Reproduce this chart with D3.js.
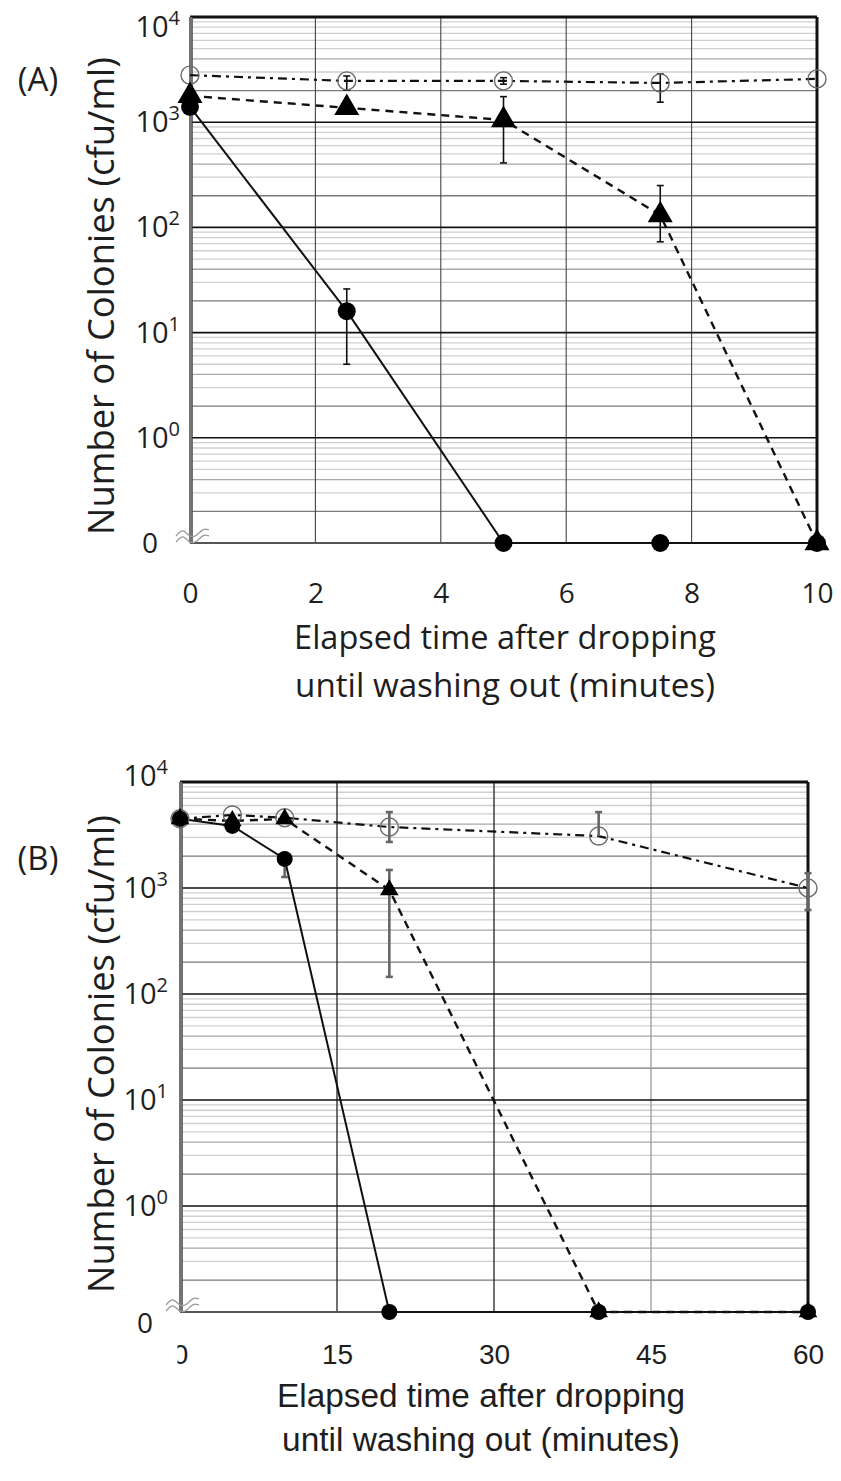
<!DOCTYPE html>
<html lang="en">
<head>
<meta charset="UTF-8">
<title>Number of colonies vs elapsed time</title>
<script src="https://cdn.jsdelivr.net/npm/d3@7"></script>
<style>
  body { margin: 0; background: #fff; }
  svg text { fill: #1e1e1e; }
</style>
</head>
<body>
<svg id="chart" width="841" height="1481"></svg>
<script>
// ---- panel A (0-10 min) ----
const timesA = [0, 2.5, 5, 7.5, 10];
const xTicksA = [0, 2, 4, 6, 8, 10];
const filledA = [1400, 16, 0, 0, 0];
const filledALo = [null, 5, null, null, null];
const filledAHi = [null, 26, null, null, null];
const triA = [1780, 1370, 1050, 131, 0];
const triALo = [null, null, 410, 73, null];
const triAHi = [null, null, 1750, 250, null];
const openA = [2800, 2470, 2470, 2360, 2580];
const openALo = [null, 2020, 2300, 1550, null];
const openAHi = [null, 2750, 2650, 2870, null];

// ---- panel B (0-60 min) ----
const timesB = [0, 5, 10, 20, 40, 60];
const xTicksB = [0, 15, 30, 45, 60];
const filledB = [4500, 3850, 1880, 0, 0, 0];
const filledBLo = [null, null, 1270, null, null, null];
const filledBHi = [null, null, null, null, null, null];
const triB = [4500, 4300, 4480, 960, 0, 0];
const triBLo = [null, null, null, 145, null, null];
const triBHi = [null, null, null, 1480, null, null];
const openB = [4500, 4890, 4600, 3760, 3090, 1000];
const openBLo = [null, null, null, 2720, null, 620];
const openBHi = [null, null, null, 5200, 5200, 1380];

// y axis: decades 10^0..10^4, bottom of axis is the "0" break
const yExps = [4, 3, 2, 1, 0];
const yZero = 0.1;

const svg = d3.select('#chart');
const defs = svg.append('defs');

function fitText(sel, width) {
  const w = sel.node().getComputedTextLength();
  const fs = parseFloat(sel.attr('font-size'));
  sel.attr('font-size', fs * width / w);
}

function drawPanel(o) {
  const g = svg.append('g');
  const x = d3.scaleLinear().domain(o.xDomain).range([o.left, o.right]);
  const y = d3.scaleLog().domain([yZero, 1e4]).range([o.bottom, o.top]);
  const yv = v => y(v === 0 ? yZero : v);

  // minor gridlines
  const minors = [];
  for (let e = -1; e < 4; e++) for (let m = 2; m <= 9; m++) minors.push({ v: m * Math.pow(10, e), m });
  g.selectAll('.minor').data(minors).enter().append('line')
    .attr('x1', o.left).attr('x2', o.right)
    .attr('y1', d => y(d.v)).attr('y2', d => y(d.v))
    .attr('stroke', d => d.m === 2 ? '#7a7a7a' : (d.m === 4 ? '#a8a8a8' : '#cfcfcf'))
    .attr('stroke-width', 1.3);

  // vertical gridlines
  g.selectAll('.vgrid').data(o.xTicks.slice(1, -1)).enter().append('line')
    .attr('x1', d => x(d)).attr('x2', d => x(d))
    .attr('y1', o.top).attr('y2', o.bottom)
    .attr('stroke', (d, i) => o.vColors[i]).attr('stroke-width', o.vWidth);

  // major gridlines
  g.selectAll('.major').data([1, 10, 100, 1000]).enter().append('line')
    .attr('x1', o.left).attr('x2', o.right)
    .attr('y1', d => y(d)).attr('y2', d => y(d))
    .attr('stroke', '#111').attr('stroke-width', 1.6);

  // frame
  g.append('line').attr('x1', o.left).attr('x2', o.right).attr('y1', o.top).attr('y2', o.top)
    .attr('stroke', '#111').attr('stroke-width', 3);
  g.append('line').attr('x1', o.right).attr('x2', o.right).attr('y1', o.top).attr('y2', o.bottom)
    .attr('stroke', '#111').attr('stroke-width', 3);
  g.append('line').attr('x1', o.left).attr('x2', o.right).attr('y1', o.bottom).attr('y2', o.bottom)
    .attr('stroke', '#555').attr('stroke-width', 2.2);
  g.append('line').attr('x1', o.left + 1).attr('x2', o.left + 1).attr('y1', o.top).attr('y2', o.bottom)
    .attr('stroke', '#444').attr('stroke-width', 3.5);
  g.append('line').attr('x1', o.left + 1).attr('x2', o.left + 1).attr('y1', o.top).attr('y2', o.bottom)
    .attr('stroke', '#bbb').attr('stroke-width', 0.8);

  // axis break (two small waves at the bottom-left corner)
  const wave = d3.line().curve(d3.curveBasis);
  [0, 6].forEach(off => {
    const bx = o.left - 14, by = o.bottom - 10 + off;
    g.append('path')
      .attr('d', wave([[bx, by + 3], [bx + 7, by - 5], [bx + 13, by + 4], [bx + 20, by + 4], [bx + 27, by - 5], [bx + 33, by - 3]]))
      .attr('fill', 'none').attr('stroke', '#9a9a9a').attr('stroke-width', 1.3);
  });

  // series lines
  const line = d3.line().x(d => x(d[0])).y(d => yv(d[1]));
  o.series.forEach(s => {
    g.append('path')
      .attr('d', line(o.times.map((t, i) => [t, s.values[i]])))
      .attr('fill', 'none').attr('stroke', '#111')
      .attr('stroke-width', s.width).attr('stroke-dasharray', s.dash);
  });

  // error bars
  o.series.forEach(s => {
    const bars = o.times.map((t, i) => ({ t, v: s.values[i], lo: s.lo[i], hi: s.hi[i] }))
      .filter(d => d.lo !== null || d.hi !== null);
    const eb = g.append('g').attr('stroke', o.errColor).attr('stroke-width', o.errWidth);
    bars.forEach(d => {
      const y1 = yv(d.hi !== null ? d.hi : d.v), y2 = yv(d.lo !== null ? d.lo : d.v);
      eb.append('line').attr('x1', x(d.t)).attr('x2', x(d.t)).attr('y1', y1).attr('y2', y2);
      if (d.hi !== null) eb.append('line').attr('x1', x(d.t) - 3.5).attr('x2', x(d.t) + 3.5).attr('y1', y1).attr('y2', y1);
      if (d.lo !== null) eb.append('line').attr('x1', x(d.t) - 3.5).attr('x2', x(d.t) + 3.5).attr('y1', y2).attr('y2', y2);
    });
  });

  // markers
  o.series.forEach(s => {
    const pts = o.times.map((t, i) => ({ t, v: s.values[i] }));
    if (s.kind === 'tri') {
      g.selectAll(null).data(pts).enter().append('path')
        .attr('d', d3.symbol(d3.symbolTriangle, o.triSize)())
        .attr('transform', d => `translate(${x(d.t)},${yv(d.v)})`)
        .attr('fill', '#000');
    } else {
      g.selectAll(null).data(pts).enter().append('circle')
        .attr('cx', d => x(d.t)).attr('cy', d => yv(d.v))
        .attr('r', s.kind === 'open' ? o.openR : o.dotR)
        .attr('fill', s.kind === 'open' ? 'none' : '#000')
        .attr('stroke', s.kind === 'open' ? '#6a6a6a' : 'none')
        .attr('stroke-width', 1.4);
    }
  });

  // y tick labels
  yExps.forEach((e, i) => {
    const t = g.append('text')
      .attr('x', o.left - o.yLabGap)
      .attr('y', y(Math.pow(10, e)) + 10 + (i === 0 ? o.topShift : 0))
      .attr('text-anchor', 'end')
      .attr('font-family', o.tickFont).attr('font-size', 29);
    t.append('tspan').text('10');
    t.append('tspan').attr('dy', -12).attr('font-size', 20).text(e);
  });
  g.append('text')
    .attr('x', o.zeroX).attr('y', o.bottom + 10 + o.zeroShift)
    .attr('text-anchor', 'middle')
    .attr('font-family', o.tickFont).attr('font-size', 28).text('0');

  // x axis tick labels
  const xa = g.append('g')
    .attr('transform', `translate(0,${o.bottom + o.xLabOffset})`)
    .call(d3.axisBottom(x).tickValues(o.xTicks).tickSize(0).tickPadding(0));
  xa.select('.domain').remove();
  xa.selectAll('text')
    .attr('font-family', o.xFont).attr('font-size', o.xTickSize).attr('fill', '#1e1e1e')
    .attr('dy', 0);
  if (o.clipFirst) {
    // the first tick label is partly hidden behind the axis in the original
    defs.append('clipPath').attr('id', 'clipFirst')
      .append('rect').attr('x', -3).attr('y', -60).attr('width', 60).attr('height', 120);
    xa.selectAll('.tick').filter(d => d === o.xTicks[0]).select('text').attr('clip-path', 'url(#clipFirst)');
  }

  // axis titles
  o.xTitle.forEach((s, i) => {
    const t = g.append('text')
      .attr('x', o.xTitleX).attr('y', o.xTitleY[i])
      .attr('text-anchor', 'middle')
      .attr('font-family', o.xFont).attr('font-size', 30).text(s);
    fitText(t, o.xTitleW[i]);
  });
  const yt = g.append('text')
    .attr('transform', `translate(${o.yTitleX},${o.yTitleY}) rotate(-90)`)
    .attr('text-anchor', 'middle').attr('dominant-baseline', 'central')
    .attr('font-family', 'Open Sans').attr('font-size', 32)
    .text('Number of Colonies (cfu/ml)');
  fitText(yt, 478);

  g.append('text')
    .attr('x', 38).attr('y', o.tagY + 11)
    .attr('text-anchor', 'middle')
    .attr('font-family', 'Open Sans').attr('font-size', 33).text(o.tag);
}

drawPanel({
  tag: '(A)', tagY: 80,
  left: 190, right: 817, top: 17, bottom: 543,
  xDomain: [0, 10], xTicks: xTicksA, times: timesA,
  vColors: ['#444', '#444', '#444', '#444'], vWidth: 1.1,
  series: [
    { kind: 'open', values: openA, lo: openALo, hi: openAHi, width: 2.2, dash: '9,5,3,5' },
    { kind: 'tri', values: triA, lo: triALo, hi: triAHi, width: 2.4, dash: '8,6' },
    { kind: 'dot', values: filledA, lo: filledALo, hi: filledAHi, width: 2, dash: null }
  ],
  errColor: '#111', errWidth: 1.6,
  triSize: 270, dotR: 9, openR: 9,
  tickFont: 'Open Sans', yLabGap: 10, topShift: 10, zeroX: 150, zeroShift: 0,
  xFont: 'Open Sans', xTickSize: 28, xLabOffset: 60, clipFirst: false,
  xTitle: ['Elapsed time after dropping', 'until washing out (minutes)'],
  xTitleX: 505, xTitleY: [649, 697], xTitleW: [422, 420],
  yTitleX: 100, yTitleY: 296
});

drawPanel({
  tag: '(B)', tagY: 859,
  left: 180, right: 808, top: 782, bottom: 1312,
  xDomain: [0, 60], xTicks: xTicksB, times: timesB,
  vColors: ['#222', '#222', '#999'], vWidth: 1.3,
  series: [
    { kind: 'open', values: openB, lo: openBLo, hi: openBHi, width: 2.2, dash: '9,5,3,5' },
    { kind: 'tri', values: triB, lo: triBLo, hi: triBHi, width: 2.4, dash: '8,6' },
    { kind: 'dot', values: filledB, lo: filledBLo, hi: filledBHi, width: 2, dash: null }
  ],
  errColor: '#666', errWidth: 2.6,
  triSize: 150, dotR: 8, openR: 9,
  tickFont: 'Open Sans', yLabGap: 12, topShift: -6, zeroX: 145, zeroShift: 11,
  xFont: 'Liberation Sans', xTickSize: 28, xLabOffset: 52, clipFirst: true,
  xTitle: ['Elapsed time after dropping', 'until washing out (minutes)'],
  xTitleX: 481, xTitleY: [1407, 1451], xTitleW: [408, 398],
  yTitleX: 100, yTitleY: 1054
});
</script>
</body>
</html>
